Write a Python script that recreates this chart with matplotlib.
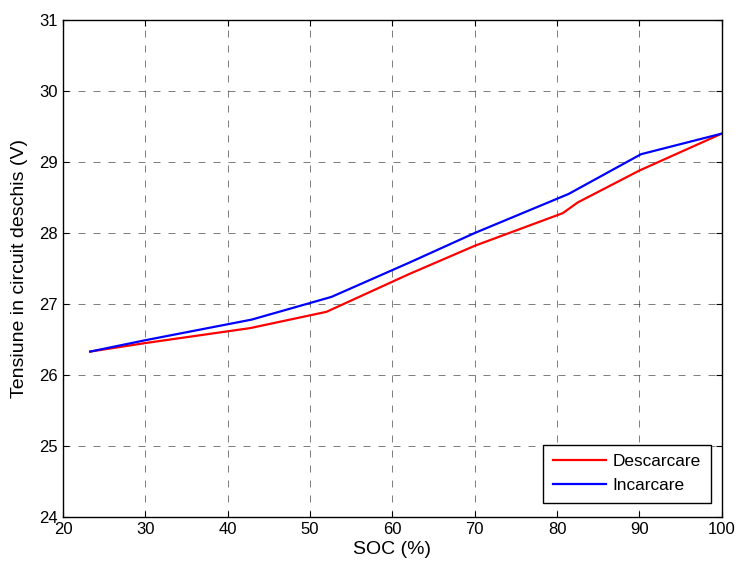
import matplotlib.pyplot as plt

plt.rcParams['font.family'] = ['Liberation Sans', 'DejaVu Sans']

# data
soc_desc = [23.3, 30, 42.7, 52.0, 62, 70, 80.7, 82.5, 90, 100]
v_desc = [26.33, 26.45, 26.66, 26.89, 27.42, 27.82, 28.28, 28.43, 28.88, 29.40]

soc_inc = [23.3, 30, 42.9, 52.6, 62, 70, 81.4, 90.2, 100]
v_inc = [26.33, 26.49, 26.78, 27.10, 27.58, 28.00, 28.55, 29.11, 29.40]

fig = plt.figure(figsize=(7.38, 5.67), dpi=100)
ax = fig.add_axes([0.0854, 0.0882, 0.8926, 0.8765])

ax.plot(soc_desc, v_desc, color='#ff0000', linewidth=1.6, label='Descarcare')
ax.plot(soc_inc, v_inc, color='#0000ff', linewidth=1.6, label='Incarcare')

ax.set_xlim(20, 100)
ax.set_ylim(24, 31)
ax.set_xticks(range(20, 101, 10))
ax.set_yticks(range(24, 32))
ax.grid(True, color='black', linestyle=(0, (8.4, 9.6)), linewidth=0.6, alpha=0.6)
ax.tick_params(direction='in', top=True, right=True, length=4, labelsize=12)
for s in ax.spines.values():
    s.set_linewidth(1.0)

ax.set_xlabel('SOC (%)', fontsize=14, labelpad=3)
ax.set_ylabel('Tensiune in circuit deschis (V)', fontsize=14, labelpad=8)

leg = ax.legend(loc='upper right', bbox_to_anchor=(0.983, 0.145), borderaxespad=0,
                fontsize=12.4, fancybox=False, framealpha=1, edgecolor='black',
                handlelength=3.1, handletextpad=0.4, borderpad=0.55, labelspacing=0.5)
leg.get_frame().set_linewidth(1.0)

fig.savefig('out.png', dpi=100)
